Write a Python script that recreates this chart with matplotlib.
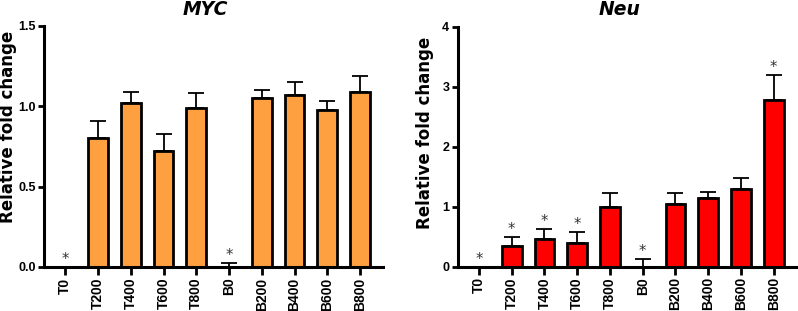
import matplotlib
matplotlib.use("Agg")
import matplotlib.pyplot as plt
import numpy as np

categories = ["T0", "T200", "T400", "T600", "T800", "B0", "B200", "B400", "B600", "B800"]

myc_values = [0.0, 0.80, 1.02, 0.72, 0.99, 0.0, 1.05, 1.07, 0.98, 1.09]
myc_err    = [0.0, 0.11, 0.07, 0.11, 0.095, 0.025, 0.05, 0.08, 0.05, 0.10]
myc_stars  = ["*", "", "", "", "", "*", "", "", "", ""]

neu_values = [0.0, 0.345, 0.455, 0.39, 0.99, 0.0, 1.04, 1.14, 1.295, 2.78]
neu_err    = [0.0, 0.145, 0.165, 0.18, 0.23, 0.12, 0.19, 0.105, 0.185, 0.41]
neu_stars  = ["*", "*", "*", "*", "", "*", "", "", "", "*"]

fig = plt.figure(figsize=(7.98, 3.11), dpi=100)

def draw(ax, values, err, stars, color, ylim, yticks, yticklabels, title, label_xy, title_x):
    x = np.arange(len(categories))
    ax.bar(x, values, width=0.6, color=color, edgecolor="black", linewidth=2.0, zorder=2)
    lower = np.zeros(len(values))
    ax.errorbar(x, values, yerr=[lower, err], fmt="none", ecolor="black",
                elinewidth=1.3, capsize=5.5, capthick=1.3, zorder=3)
    for xi, v, e, s in zip(x, values, err, stars):
        if s:
            ax.text(xi, v + e, s, ha="center", va="bottom", fontsize=10.5,
                    color="#333333", family="DejaVu Sans")
    ax.set_xlim(-0.65, 9.7)
    ax.set_ylim(*ylim)
    ax.set_yticks(yticks)
    ax.set_yticklabels(yticklabels, fontsize=9, fontweight="bold", family="Liberation Sans")
    ax.set_xticks(x)
    ax.set_xticklabels(categories, rotation=90, fontsize=10, fontweight="bold", family="Liberation Sans")
    for sp in ["top", "right"]:
        ax.spines[sp].set_visible(False)
    for sp in ["left", "bottom"]:
        ax.spines[sp].set_linewidth(2.2)
    ax.tick_params(axis="y", width=2.0, length=4, pad=2)
    ax.tick_params(axis="x", width=2.0, length=6, pad=1.5)
    ax.set_ylabel("Relative fold change", fontsize=12, fontweight="bold", family="DejaVu Sans",
                  va="center")
    ax.yaxis.set_label_coords(*label_xy)
    ax.set_title(title, fontsize=13.5, fontweight="bold", style="italic", family="DejaVu Sans",
                 pad=8, x=title_x)

ax1 = fig.add_axes([0.0551, 0.1415, 0.4248, 0.775])
draw(ax1, myc_values, myc_err, myc_stars, "#FFA040", (0, 1.5), [0, 0.5, 1.0, 1.5],
     ["0.0", "0.5", "1.0", "1.5"], "MYC", (-0.106, 0.583), 0.475)

ax2 = fig.add_axes([0.5735, 0.1425, 0.4248, 0.772])
draw(ax2, neu_values, neu_err, neu_stars, "#FF0000", (0, 4), [0, 1, 2, 3, 4],
     ["0", "1", "2", "3", "4"], "Neu", (-0.0965, 0.559), 0.479)

fig.savefig("out.png", dpi=100)
